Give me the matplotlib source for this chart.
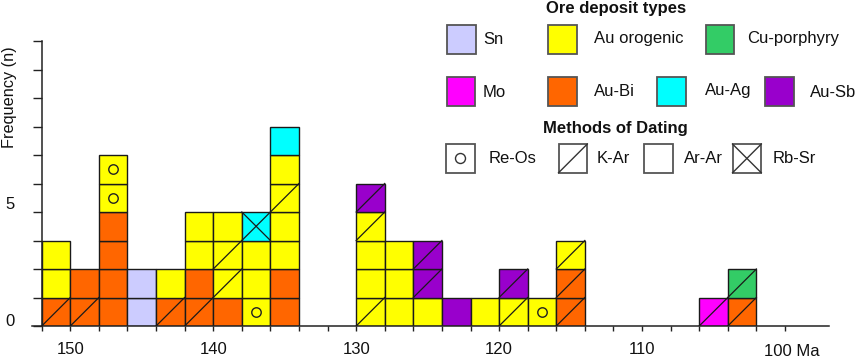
import matplotlib
matplotlib.use("Agg")
import matplotlib.pyplot as plt
import matplotlib.transforms as mtransforms
from matplotlib.patches import Rectangle

plt.rcParams['font.family'] = ['Liberation Sans', 'DejaVu Sans']

# ---------------- data ----------------
bin_centers = [151, 149, 147, 145, 143, 141, 139, 137, 135,
               129, 127, 125, 123, 121, 119, 117, 115, 105, 103]

col_types = [
    ["Au-Bi", "Au orogenic", "Au orogenic"],
    ["Au-Bi", "Au-Bi"],
    ["Au-Bi", "Au-Bi", "Au-Bi", "Au-Bi", "Au orogenic", "Au orogenic"],
    ["Sn", "Sn"],
    ["Au-Bi", "Au orogenic"],
    ["Au-Bi", "Au-Bi", "Au orogenic", "Au orogenic"],
    ["Au-Bi", "Au orogenic", "Au orogenic", "Au orogenic"],
    ["Au orogenic", "Au orogenic", "Au orogenic", "Au-Ag"],
    ["Au-Bi", "Au-Bi", "Au orogenic", "Au orogenic", "Au orogenic", "Au orogenic", "Au-Ag"],
    ["Au orogenic", "Au orogenic", "Au orogenic", "Au orogenic", "Au-Sb"],
    ["Au orogenic", "Au orogenic", "Au orogenic"],
    ["Au orogenic", "Au-Sb", "Au-Sb"],
    ["Au-Sb"],
    ["Au orogenic"],
    ["Au orogenic", "Au-Sb"],
    ["Au orogenic"],
    ["Au-Bi", "Au-Bi", "Au orogenic"],
    ["Mo"],
    ["Au-Bi", "Cu-porphyry"],
]

col_methods = [
    ["K-Ar", "Ar-Ar", "Ar-Ar"],
    ["K-Ar", "Ar-Ar"],
    ["Ar-Ar", "Ar-Ar", "Ar-Ar", "Ar-Ar", "Re-Os", "Re-Os"],
    ["Ar-Ar", "Ar-Ar"],
    ["K-Ar", "Ar-Ar"],
    ["K-Ar", "Ar-Ar", "Ar-Ar", "Ar-Ar"],
    ["Ar-Ar", "K-Ar", "K-Ar", "Ar-Ar"],
    ["Re-Os", "Ar-Ar", "Ar-Ar", "Rb-Sr"],
    ["Ar-Ar", "Ar-Ar", "Ar-Ar", "Ar-Ar", "K-Ar", "Ar-Ar", "Ar-Ar"],
    ["K-Ar", "Ar-Ar", "Ar-Ar", "K-Ar", "K-Ar"],
    ["Ar-Ar", "Ar-Ar", "Ar-Ar"],
    ["Ar-Ar", "K-Ar", "K-Ar"],
    ["Ar-Ar"],
    ["Ar-Ar"],
    ["K-Ar", "K-Ar"],
    ["Re-Os"],
    ["K-Ar", "K-Ar", "K-Ar"],
    ["K-Ar"],
    ["K-Ar", "K-Ar"],
]

type_names = ["Sn", "Au orogenic", "Cu-porphyry", "Mo", "Au-Bi", "Au-Ag", "Au-Sb"]
type_colors = ["#CCCCFF", "#FFFF00", "#33CC66", "#FF00FF", "#FF6600", "#00FFFF", "#9900CC"]
method_names = ["Re-Os", "K-Ar", "Ar-Ar", "Rb-Sr"]

x_tick_values = list(range(152, 99, -2))
x_label_values = [150, 140, 130, 120, 110]
y_tick_values = list(range(0, 11))
y_label_values = ["0", "5"]

color_of = dict(zip(type_names, type_colors))
BIN = 2
EDGE = "#1a1a1a"

# ---------------- figure ----------------
W, H = 858, 362
fig = plt.figure(figsize=(W / 100, H / 100), dpi=100)
ax = fig.add_axes([32 / W, 1 - 326 / H, (829 - 32) / W, (326 - 41) / H])
ax.set_xlim(152.68, 96.92)
ax.set_ylim(0, 10)

for c, ts, ms in zip(bin_centers, col_types, col_methods):
    lo, hi = c - BIN / 2, c + BIN / 2
    for k, (t, m) in enumerate(zip(ts, ms)):
        ax.add_patch(Rectangle((lo, k), BIN, 1, facecolor=color_of[t],
                               edgecolor=EDGE, linewidth=1.0, zorder=2))
        if m in ("K-Ar", "Rb-Sr"):
            ax.plot([hi, lo], [k, k + 1], color=EDGE, lw=0.9, zorder=3)
        if m == "Rb-Sr":
            ax.plot([lo, hi], [k, k + 1], color=EDGE, lw=0.9, zorder=3)
        if m == "Re-Os":
            ax.plot([c], [k + 0.5], marker="o", ms=6.8, mfc="none",
                    mec="#222222", mew=1.0, zorder=3)

for s in ("top", "right"):
    ax.spines[s].set_visible(False)
ax.spines["left"].set_position(("data", 152))
ax.spines["left"].set_bounds(0, 10)
for s in ("left", "bottom"):
    ax.spines[s].set_linewidth(1.1)
    ax.spines[s].set_color("#222222")

ax.set_xticks(x_tick_values)
ax.set_xticklabels([str(v) if v in x_label_values else "" for v in x_tick_values])
ax.tick_params(axis="x", direction="out", length=3.8, width=1.0, color="#222222",
               labelsize=12, pad=7.8, labelcolor="#111111")
ax.set_yticks(y_tick_values)
ax.set_yticklabels([""] * len(y_tick_values))
ax.tick_params(axis="y", direction="out", length=6.5, width=1.0, color="#222222")

# "100 Ma" label
ax.text(100, -0.9, "100 Ma",
        transform=ax.transData + mtransforms.ScaledTranslation(0.065, 0, fig.dpi_scale_trans),
        ha="center", va="center", fontsize=12, color="#111111", clip_on=False)

# y labels (placed like the reference)
yl_trans = mtransforms.blended_transform_factory(fig.transFigure, ax.transData)
ax.text(10.5 / W, 0.15, y_label_values[0], transform=yl_trans, ha="center", va="center",
        fontsize=12, color="#111111")
ax.text(10.5 / W, 4.26, y_label_values[1], transform=yl_trans, ha="center", va="center",
        fontsize=12, color="#111111")

fig.text(9.5 / W, 1 - 97 / H, "Frequency (n)", rotation=90, ha="center", va="center",
         fontsize=11.7, color="#111111")

# ---------------- legend ----------------
lax = fig.add_axes([0, 0, 1, 1])
lax.set_xlim(0, W)
lax.set_ylim(H, 0)
lax.axis("off")
LEG_EDGE = "#555555"
PS = 28.8

type_layout = [(447, 25, 483, 40), (548, 25, 594, 38.5), (705.5, 25, 747.5, 38.5),
               (446.5, 77.3, 483, 92.3), (548, 77.3, 594, 92), (657, 77.3, 705, 90),
               (765, 77.3, 810, 92.5)]
for name, (px, py, tx, ty) in zip(type_names, type_layout):
    lax.add_patch(Rectangle((px, py), PS, PS, facecolor=color_of[name],
                            edgecolor=LEG_EDGE, linewidth=1.3))
    lax.text(tx, ty, name, ha="left", va="center", fontsize=12, color="#111111")

method_layout = [(446, 488.3), (558.5, 596.7), (644, 684), (732.5, 772.7)]
my = 144
for name, (px, tx) in zip(method_names, method_layout):
    lax.add_patch(Rectangle((px, my), PS, PS, facecolor="white",
                            edgecolor=LEG_EDGE, linewidth=1.3))
    if name in ("K-Ar", "Rb-Sr"):
        lax.plot([px, px + PS], [my + PS, my], color="#333333", lw=1.0)
    if name == "Rb-Sr":
        lax.plot([px, px + PS], [my, my + PS], color="#333333", lw=1.0)
    if name == "Re-Os":
        lax.plot([px + PS / 2], [my + PS / 2], marker="o", ms=7.2, mfc="none",
                 mec="#333333", mew=1.0)
    lax.text(tx, my + 14.5, name, ha="left", va="center", fontsize=12, color="#111111")

lax.text(615.8, 8.5, "Ore deposit types", ha="center", va="center", fontsize=12,
         fontweight="bold", color="#111111")
lax.text(615.8, 129, "Methods of Dating", ha="center", va="center", fontsize=12,
         fontweight="bold", color="#111111")

fig.savefig("out.png", dpi=100)
